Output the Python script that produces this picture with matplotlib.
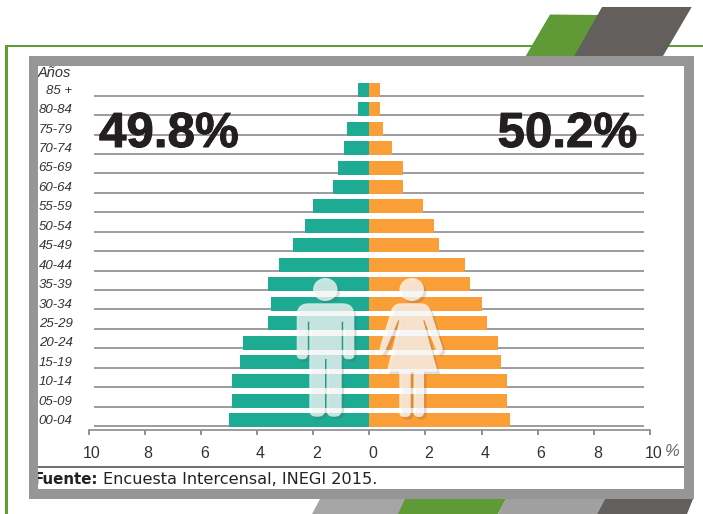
import matplotlib
matplotlib.use('Agg')
import matplotlib.pyplot as plt
import matplotlib.patheffects as pe
from matplotlib.patches import Ellipse, Polygon, Rectangle
from matplotlib.transforms import ScaledTranslation
import numpy as np

W, H = 703, 514

edades = ['00-04', '05-09', '10-14', '15-19', '20-24', '25-29', '30-34', '35-39', '40-44',
          '45-49', '50-54', '55-59', '60-64', '65-69', '70-74', '75-79', '80-84', '85 +']
hombres = [5.0, 4.9, 4.9, 4.6, 4.5, 3.6, 3.5, 3.6, 3.2, 2.7, 2.3, 2.0, 1.3, 1.1, 0.9, 0.8, 0.4, 0.4]
mujeres = [5.0, 4.9, 4.9, 4.7, 4.6, 4.2, 4.0, 3.6, 3.4, 2.5, 2.3, 1.9, 1.2, 1.2, 0.8, 0.5, 0.4, 0.4]
ticks_x = [-10, -8, -6, -4, -2, 0, 2, 4, 6, 8, 10]
etiquetas_x = ['10', '8', '6', '4', '2', '0', '2', '4', '6', '8', '10']

VERDE = '#5f9a36'
GRIS_OSC = '#635f5c'
GRIS = '#969696'
TEAL = '#1dab94'
NARANJA = '#fa9e38'
LINEA = '#8f8f94'
NEGRO = '#231f20'

plt.rcParams['font.family'] = ['Liberation Sans', 'DejaVu Sans']

fig = plt.figure(figsize=(W / 100, H / 100), dpi=100)


def px_axes(zorder):
    a = fig.add_axes([0, 0, 1, 1], zorder=zorder)
    a.set_xlim(0, W)
    a.set_ylim(H, 0)
    a.axis('off')
    a.patch.set_alpha(0)
    return a


def redondear(puntos):
    # (x, y, radio): cambia cada esquina con radio por una curva
    salida = []
    n = len(puntos)
    for i, (x, y, r) in enumerate(puntos):
        if r == 0:
            salida.append((x, y))
            continue
        p = np.array([x, y], dtype=float)
        a = np.array(puntos[i - 1][:2], dtype=float)
        b = np.array(puntos[(i + 1) % n][:2], dtype=float)
        d1 = (a - p) / np.linalg.norm(a - p)
        d2 = (b - p) / np.linalg.norm(b - p)
        r1 = min(r, np.linalg.norm(a - p) / 2)
        r2 = min(r, np.linalg.norm(b - p) / 2)
        p1, p2 = p + d1 * r1, p + d2 * r2
        for t in np.linspace(0, 1, 8):
            salida.append(tuple((1 - t) ** 2 * p1 + 2 * t * (1 - t) * p + t ** 2 * p2))
    return salida


# fondo: marco verde y formas de adorno
fondo = px_axes(0)
fondo.add_patch(Rectangle((5, 44.7), W, 2.6, color='#5f9e32', lw=0))
fondo.add_patch(Rectangle((5, 44.7), 2.6, H, color='#5f9e32', lw=0))
fondo.add_patch(Polygon([(525.7, 56), (550, 14.5), (600, 15), (600, 56)], color=VERDE, lw=0))
fondo.add_patch(Polygon([(574.3, 56), (602, 7), (691.7, 7), (663, 56)], color=GRIS_OSC, lw=0))
fondo.add_patch(Polygon([(312, H), (320, 499), (410, 499), (402, H)], color='#a5a5a5', lw=0))
fondo.add_patch(Polygon([(398, H), (405, 499), (506, 499), (498, H)], color=VERDE, lw=0))
fondo.add_patch(Polygon([(498, H), (506, 499), (605, 499), (597, H)], color='#a0a0a0', lw=0))
fondo.add_patch(Polygon([(597, H), (605, 499), (693, 499), (687, H)], color=GRIS_OSC, lw=0))
fondo.add_patch(Rectangle((38, 66), 646, 423, color='white', lw=0))
fondo.plot([38, 684], [467, 467], color='#555555', lw=1.2)

# piramide
ax = fig.add_axes([88.5 / W, 1 - 430 / H, (650 - 88.5) / W, (430 - 66) / H], zorder=1)
ax.patch.set_alpha(0)
y = np.arange(len(edades))
ALTO = 0.66
BAJA = 0.06
ax.set_xlim(-10, 10)
ax.set_ylim(-0.2, (430 - 66) / 19.44 - 0.2)
ax.hlines(y, -9.8, 9.8, color=LINEA, lw=1.25, zorder=1)
ax.barh(y - BAJA, [-v for v in hombres], height=ALTO + BAJA, align='edge', color=TEAL, zorder=2)
ax.barh(y - BAJA, mujeres, height=ALTO + BAJA, align='edge', color=NARANJA, zorder=2)
for s in ['top', 'left', 'right']:
    ax.spines[s].set_visible(False)
ax.spines['bottom'].set_color(LINEA)
ax.spines['bottom'].set_linewidth(1.25)
ax.set_xticks(ticks_x)
ax.set_xticklabels(etiquetas_x, fontsize=11.5, color='#333333')
ax.tick_params(axis='x', length=3.6, width=1.4, color=LINEA, pad=8)
desplaza = ScaledTranslation(2.5 / 72, 0, fig.dpi_scale_trans)
for t in ax.get_xticklabels():
    t.set_transform(t.get_transform() + desplaza)
ax.set_yticks(y + ALTO / 2)
ax.set_yticklabels(edades, fontsize=9.5, style='italic', color='#333333')
ax.tick_params(axis='y', length=0, pad=11.5)

# encima: figuras, porcentajes, textos y marco gris
top = px_axes(2)
BLANCO = dict(color='white', alpha=0.74, lw=0)
SOMBRA = dict(color='#555555', alpha=0.2, lw=0)

hombre = redondear([(296.7, 303.3, 12), (354.3, 303.3, 12), (354.3, 359.3, 5), (343.2, 359.3, 5),
                    (343.2, 321.7, 0), (341.7, 321.7, 0), (341.7, 416.7, 7), (326.5, 416.7, 7),
                    (326.5, 359, 0), (325, 359, 0), (325, 416.7, 7), (309.3, 416.7, 7),
                    (309.3, 321.7, 0), (307.8, 321.7, 0), (307.8, 359.3, 5), (296.7, 359.3, 5)])
mujer = redondear([(393.3, 303.3, 8), (428.3, 303.3, 8), (443.3, 350, 3), (439, 355, 3), (436.7, 351.7, 2),
                   (424.3, 320, 0), (423.3, 320.7, 0), (437.7, 371.7, 0), (424, 371.7, 0), (424, 417, 5),
                   (413.7, 417, 5), (413.7, 372, 0), (410.7, 372, 0), (410.7, 417, 5), (399.3, 417, 5),
                   (399.3, 371.7, 0), (386.7, 371.7, 0), (399.3, 320.7, 0), (398.3, 320, 0),
                   (385, 351.7, 2), (381.7, 355, 3), (379, 350, 3)])
for contorno, cx in [(hombre, 325.3), (mujer, 411.7)]:
    arr = np.array(contorno)
    top.add_patch(Polygon(arr + [2.5, 2.5], **SOMBRA))
    top.add_patch(Ellipse((cx + 2.5, 292), 24.5, 23, **SOMBRA))
    top.add_patch(Polygon(arr, **BLANCO))
    top.add_patch(Ellipse((cx, 289.5), 24.5, 23, **BLANCO))

grueso = [pe.withStroke(linewidth=0.7, foreground=NEGRO)]
top.text(99, 147, '49.8%', fontsize=35.5, fontweight='bold', color=NEGRO, va='baseline',
         path_effects=grueso)
top.text(497.5, 147, '50.2%', fontsize=35.5, fontweight='bold', color=NEGRO, va='baseline',
         path_effects=grueso)
top.text(665, 452, '%', fontsize=12, style='italic', color='#666666', va='center')
top.text(38, 77, 'Años', fontsize=10.5, style='italic', color='#333333', va='baseline')

top.text(33.5, 480, 'Fuente:', fontsize=10.8, fontweight='bold', color='#222222', va='center',
         family='DejaVu Sans')
top.text(103, 480, 'Encuesta Intercensal, INEGI 2015.', fontsize=11.6, color='#222222', va='center',
         family='DejaVu Sans')

# marco gris por encima para cortar lo que sobresale (los textos van en zorder 3)
top.add_patch(Rectangle((28.5, 56), 665, 10, color=GRIS, lw=0, zorder=5))
top.add_patch(Rectangle((28.5, 489), 665, 10, color=GRIS, lw=0, zorder=5))
top.add_patch(Rectangle((28.5, 56), 9.5, 443, color=GRIS, lw=0, zorder=5))
top.add_patch(Rectangle((684, 56), 9.5, 443, color=GRIS, lw=0, zorder=5))

fig.savefig('out.png', dpi=100)
